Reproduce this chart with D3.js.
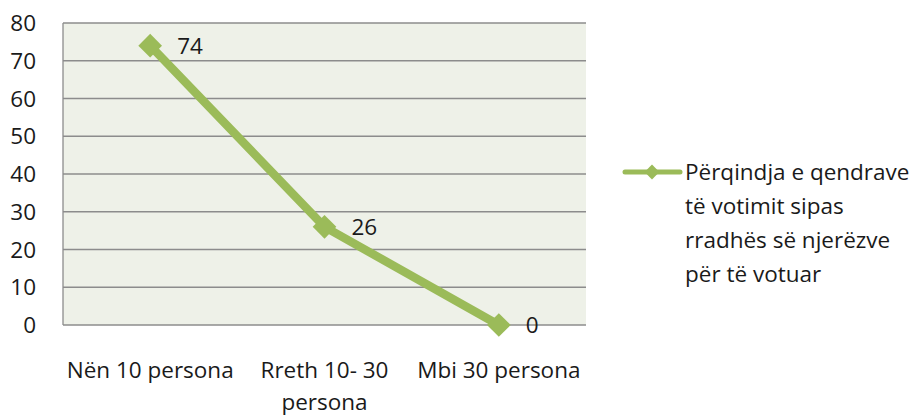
<!DOCTYPE html>
<html>
<head>
<meta charset="utf-8">
<script src="https://cdn.jsdelivr.net/npm/d3@7"></script>
<style>
  body { margin: 0; background: #fff; }
  svg text { font-family: "Open Sans", Lato, sans-serif; fill: #1a1a1a; }
</style>
</head>
<body>
<div class="d3_content"></div>
<script>
// chart data
var categories = ["Nën 10 persona", "Rreth 10- 30 persona", "Mbi 30 persona"];
var category_lines = [["Nën 10 persona"], ["Rreth 10- 30", "persona"], ["Mbi 30 persona"]];
var values = [74, 26, 0];
var y_ticks = [0, 10, 20, 30, 40, 50, 60, 70, 80];
var series_name = ["Përqindja e qendrave", "të votimit sipas", "rradhës së njerëzve", "për të votuar"];

frame = { width: 919, height: 415, left: 63, right: 586, top: 23, bottom: 325 }
var green = "#9bbb59";
var font_size = "22.5px";

var svg = d3.select(".d3_content").append("svg")
  .attr("width", frame.width)
  .attr("height", frame.height);

var x = d3.scaleBand().domain(categories).range([frame.left, frame.right]);
var y = d3.scaleLinear().domain([0, 80]).range([frame.bottom, frame.top]);

// plot background
svg.append("rect")
  .attr("x", frame.left).attr("y", frame.top)
  .attr("width", frame.right - frame.left)
  .attr("height", frame.bottom - frame.top)
  .style("fill", "#eef1e8");

// gridlines
svg.append("g").selectAll("line")
  .data(y_ticks)
  .join("line")
  .attr("x1", frame.left).attr("x2", frame.right)
  .attr("y1", d => y(d)).attr("y2", d => y(d))
  .style("stroke", "#8c8c8c")
  .style("stroke-width", 1.3);

// left axis line
svg.append("line")
  .attr("x1", frame.left).attr("x2", frame.left)
  .attr("y1", frame.top).attr("y2", frame.bottom)
  .style("stroke", "#8c8c8c")
  .style("stroke-width", 1.3);

// y tick labels
svg.append("g").selectAll("text")
  .data(y_ticks)
  .join("text")
  .attr("x", 36)
  .attr("y", d => y(d))
  .attr("dy", "0.36em")
  .attr("text-anchor", "end")
  .style("font-size", font_size)
  .text(d => d);

// x category labels
var xl = svg.append("g").selectAll("text")
  .data(categories)
  .join("text")
  .attr("x", d => x(d) + x.bandwidth() / 2)
  .attr("y", 378)
  .attr("text-anchor", "middle")
  .style("font-size", font_size);
xl.selectAll("tspan")
  .data((d, i) => category_lines[i].map(t => ({ t: t, x: x(d) + x.bandwidth() / 2 })))
  .join("tspan")
  .attr("x", d => d.x)
  .attr("dy", (d, i) => i === 0 ? 0 : 32)
  .text(d => d.t);

// the line
var line = d3.line()
  .x((d, i) => x(categories[i]) + x.bandwidth() / 2)
  .y(d => y(d));

svg.append("path")
  .datum(values)
  .attr("d", line)
  .style("fill", "none")
  .style("stroke", green)
  .style("stroke-width", 8.5)
  .style("stroke-linejoin", "round");

var diamond = d3.symbol().type(d3.symbolSquare).size(280);

svg.append("g").selectAll("path")
  .data(values)
  .join("path")
  .attr("d", diamond)
  .attr("transform", (d, i) => `translate(${x(categories[i]) + x.bandwidth() / 2}, ${y(d)}) rotate(45)`)
  .style("fill", green);

// data labels
svg.append("g").selectAll("text")
  .data(values)
  .join("text")
  .attr("x", (d, i) => x(categories[i]) + x.bandwidth() / 2 + 27)
  .attr("y", d => y(d))
  .attr("dy", "0.36em")
  .style("font-size", font_size)
  .text(d => d);

// legend
var ly = 172;
svg.append("line")
  .attr("x1", 625).attr("x2", 680)
  .attr("y1", ly).attr("y2", ly)
  .style("stroke", green)
  .style("stroke-width", 5)
  .style("stroke-linecap", "round");
svg.append("path")
  .attr("d", d3.symbol().type(d3.symbolSquare).size(110))
  .attr("transform", `translate(652, ${ly}) rotate(45)`)
  .style("fill", green);

svg.append("text")
  .attr("x", 685)
  .attr("y", ly)
  .style("font-size", font_size)
  .selectAll("tspan")
  .data(series_name)
  .join("tspan")
  .attr("x", 685)
  .attr("dy", (d, i) => i === 0 ? "0.36em" : 34)
  .text(d => d);
</script>
</body>
</html>
